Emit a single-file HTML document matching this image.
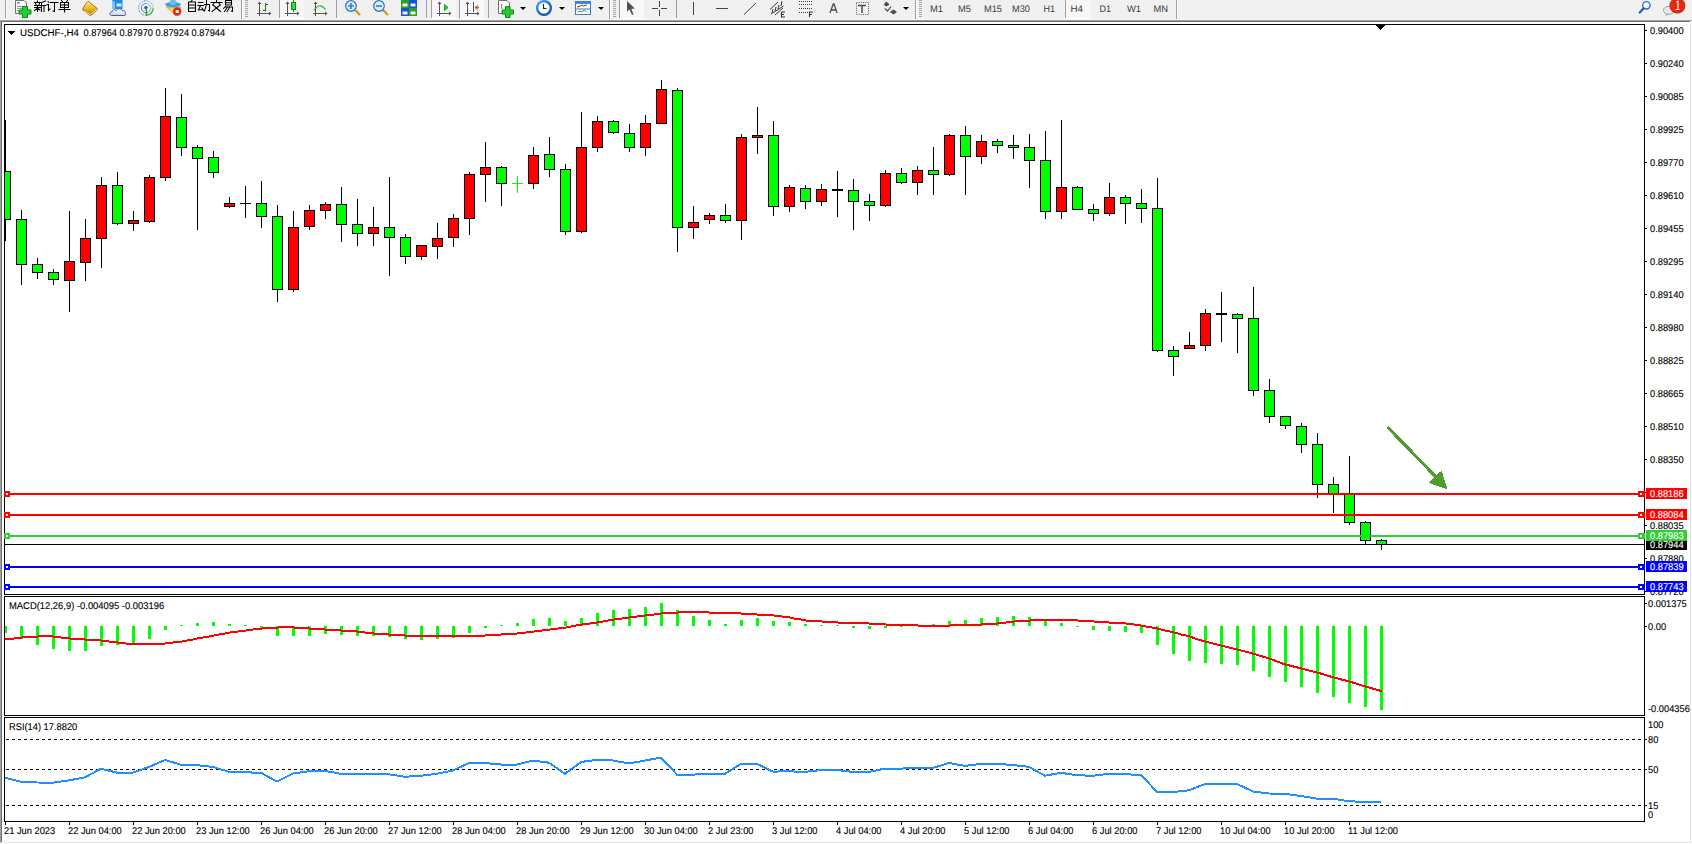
<!DOCTYPE html>
<html><head><meta charset="utf-8"><style>
html,body{margin:0;padding:0;background:#fff;width:1692px;height:844px;overflow:hidden}
svg{display:block}
text{white-space:pre;text-rendering:geometricPrecision}
</style></head><body>
<svg width="1692" height="844" viewBox="0 0 1692 844" shape-rendering="crispEdges" font-family="Liberation Sans">
<rect x="0" y="0" width="1692" height="844" fill="#fff"/>
<rect x="0" y="0" width="1692" height="19" fill="#f0f0f0"/>
<rect x="0" y="19" width="1692" height="1" fill="#f8f8f8"/>
<rect x="0" y="20" width="1692" height="1" fill="#a0a0a0"/>
<rect x="1" y="21" width="1689" height="1" fill="#707070"/>
<rect x="0" y="21" width="1" height="822" fill="#a0a0a0"/>
<rect x="1" y="21" width="1" height="821" fill="#707070"/>
<rect x="1690" y="22" width="1" height="820" fill="#e3e3e3"/>
<rect x="2" y="842" width="1689" height="1" fill="#e3e3e3"/>
<g id="toolbar" shape-rendering="auto">
<!-- separators -->
<g fill="#a0a0a0">
<rect x="5" y="0" width="1" height="18"/>
<rect x="241" y="0" width="1" height="19"/>
<rect x="279" y="0" width="1" height="18"/>
<rect x="336" y="0" width="1" height="18"/>
<rect x="426" y="0" width="1" height="18"/>
<rect x="431" y="0" width="1" height="18"/>
<rect x="459" y="0" width="1" height="18"/>
<rect x="488" y="0" width="1" height="18"/>
<rect x="609" y="0" width="1" height="19"/>
<rect x="619" y="0" width="1" height="18"/>
<rect x="676" y="0" width="1" height="18"/>
<rect x="915" y="0" width="1" height="19"/>
<rect x="1065" y="0" width="1" height="18"/>
<rect x="1176" y="0" width="1" height="19"/>
</g>
<g fill="#fafafa">
<rect x="6" y="0" width="1" height="18"/><rect x="242" y="0" width="1" height="19"/><rect x="610" y="0" width="1" height="19"/><rect x="916" y="0" width="1" height="19"/><rect x="1177" y="0" width="1" height="19"/>
</g>
<!-- pressed button backgrounds -->
<g fill="#f7f7f7">
<rect x="280" y="0" width="24" height="18"/>
<rect x="432" y="0" width="24" height="18"/>
<rect x="460" y="0" width="24" height="18"/>
<rect x="620" y="0" width="24" height="18"/>
<rect x="1066" y="0" width="24" height="18"/>
</g>
<g fill="#ffffff">
<rect x="280" y="18" width="25" height="1"/><rect x="432" y="18" width="25" height="1"/><rect x="460" y="18" width="25" height="1"/><rect x="620" y="18" width="25" height="1"/><rect x="1066" y="18" width="25" height="1"/>
</g>
<!-- grips -->
<g fill="#a8a8a8">
<rect x="245" y="0" width="3" height="1"/><rect x="245" y="2" width="3" height="1"/><rect x="245" y="4" width="3" height="1"/><rect x="245" y="6" width="3" height="1"/><rect x="245" y="8" width="3" height="1"/><rect x="245" y="10" width="3" height="1"/><rect x="245" y="12" width="3" height="1"/><rect x="245" y="14" width="3" height="1"/><rect x="245" y="16" width="3" height="1"/>
<rect x="613" y="0" width="3" height="1"/><rect x="613" y="2" width="3" height="1"/><rect x="613" y="4" width="3" height="1"/><rect x="613" y="6" width="3" height="1"/><rect x="613" y="8" width="3" height="1"/><rect x="613" y="10" width="3" height="1"/><rect x="613" y="12" width="3" height="1"/><rect x="613" y="14" width="3" height="1"/><rect x="613" y="16" width="3" height="1"/>
<rect x="919" y="0" width="3" height="1"/><rect x="919" y="2" width="3" height="1"/><rect x="919" y="4" width="3" height="1"/><rect x="919" y="6" width="3" height="1"/><rect x="919" y="8" width="3" height="1"/><rect x="919" y="10" width="3" height="1"/><rect x="919" y="12" width="3" height="1"/><rect x="919" y="14" width="3" height="1"/><rect x="919" y="16" width="3" height="1"/>
</g>

<!-- new order icon -->
<path d="M15.5,0.5 H24 L26.5,3 V13.5 H15.5 Z" fill="#fff" stroke="#707070" stroke-width="1"/>
<rect x="17" y="2" width="3" height="1.5" fill="#888"/>
<rect x="17" y="6" width="7" height="1" fill="#999"/><rect x="17" y="8" width="5" height="1" fill="#999"/><rect x="17" y="10" width="4" height="1" fill="#999"/>
<path d="M22.5,6.5 H27.5 V10 H31 V14 H27.5 V17.5 H22.5 V14 H19 V10 H22.5 Z" fill="#1fd02f" stroke="#0a8a14" stroke-width="1"/>
<!-- 新订单 -->
<g fill="none" stroke="#000" stroke-width="1.05" stroke-linecap="square">
<path d="M37.5,1 V2 M34.5,2.5 H40.5 M35.5,3.5 L36,4.5 M39.5,3.5 L39,4.5 M34.5,5.5 H40.5 M37.5,5.5 V11.5 M34.5,7.5 H40.5 M37.5,8 L34.5,10.5 M37.5,8 L40,10"/>
<path d="M45.5,1 L41.5,2.5 V11.5 M41.5,5.5 H46 M44,5.5 V11.5"/>
<path d="M48,1.5 L49,2.5 M47,4.5 H48.5 V10.5 L50,9"/>
<path d="M50.5,2.5 H58 M54.5,2.5 V11.5 L53,11"/>
<path d="M61.5,0.5 L62.5,1.5 M67.5,0.5 L66.5,1.5 M60.5,2.5 H68.5 V7.5 H60.5 Z M60.5,5 H68.5 M64.5,2.5 V12 M59,9.5 H70"/>
</g>
<!-- book -->
<defs>
<linearGradient id="gbook" x1="0" y1="0" x2="0" y2="1"><stop offset="0" stop-color="#fff08a"/><stop offset="0.5" stop-color="#e8b820"/><stop offset="1" stop-color="#b07818"/></linearGradient>
<linearGradient id="gcloud" x1="0" y1="0" x2="0" y2="1"><stop offset="0" stop-color="#ffffff"/><stop offset="1" stop-color="#c8d0e0"/></linearGradient>
<radialGradient id="gclock" cx="0.4" cy="0.35" r="0.7"><stop offset="0" stop-color="#9ad0ff"/><stop offset="0.6" stop-color="#1a78d8"/><stop offset="1" stop-color="#0a4aa0"/></radialGradient>
</defs>
<path d="M82.5,9.8 C83.5,7 85.5,3.5 88.2,1.2 L97.6,8.8 C95.5,11.5 93,14 90.3,15.6 Z" fill="url(#gbook)" stroke="#a8701a" stroke-width="1" stroke-linejoin="round"/>
<path d="M84,11 L90.2,14.6 L96.5,9.5" fill="none" stroke="#f8e0a0" stroke-width="0.9"/>
<!-- server cloud -->
<path d="M112,0 H122.5 V9 H112 Z" fill="#1a8ae8"/>
<path d="M112,0 L115,2 V9 H112 Z" fill="#7cc4ff"/>
<rect x="116.5" y="3.5" width="5" height="3" fill="#d8ecff"/>
<path d="M111.5,15.5 C109.2,15.5 109.2,12.2 111.8,12 C112,10 114.6,9 116.2,10.4 C117.3,8.4 121.2,8.2 122.2,10.6 C124.6,10.2 126.2,12.2 125.2,13.6 C126.4,14.6 125.6,15.5 124.2,15.5 Z" fill="url(#gcloud)" stroke="#4a5c90" stroke-width="1"/>
<!-- radio signal -->
<g fill="none">
<path d="M146,0.7 A7.3,7.3 0 1 0 146,15.3" stroke="#7898dc" stroke-width="1" stroke-dasharray="2,0.7"/>
<path d="M146,3.4 A4.6,4.6 0 1 0 146,12.6" stroke="#5a84d4" stroke-width="1"/>
<path d="M146,0.7 A7.3,7.3 0 0 1 153.3,8" stroke="#a8c8d8" stroke-width="1"/>
<path d="M146,3.4 A4.6,4.6 0 0 1 150.6,8" stroke="#98c0c8" stroke-width="1"/>
<path d="M153.3,8 A7.3,7.3 0 0 1 146.5,15.3" stroke="#50a850" stroke-width="1.3"/>
<path d="M150.6,8 A4.6,4.6 0 0 1 146.5,12.6" stroke="#70b870" stroke-width="1"/>
</g>
<circle cx="146" cy="7.6" r="1.7" fill="#2050c0"/>
<path d="M146.4,8 V15.8" fill="none" stroke="#18a018" stroke-width="1.3"/>
<!-- expert hat -->
<path d="M166.5,7 L175.5,15.5 L180.8,7 Z" fill="#f5d848" stroke="#c8a020" stroke-width="0.8"/>
<ellipse cx="173" cy="4.6" rx="7.8" ry="2.6" fill="#3a9ee0"/>
<ellipse cx="173" cy="2.6" rx="3.6" ry="2.8" fill="#68bcf0"/>
<circle cx="177.2" cy="11.5" r="4.2" fill="#e02010"/>
<rect x="175.7" y="10" width="3" height="3" fill="#fff"/>
<!-- 自动交易 -->
<g fill="none" stroke="#000" stroke-width="1.05" stroke-linecap="square">
<path d="M192,0.5 L191,1.5 M188.5,2 H195.5 V11.5 H188.5 Z M188.5,5 H195.5 M188.5,8 H195.5"/>
<path d="M198.5,2.5 H203 M198,5.5 H203.5 M200.5,5.5 L198.5,10 L203,9.5 M202,8 L203.5,10.5 M206.5,0.5 V4.5 L204.5,11 M204.5,4.5 H209.5 V11 L208.5,10.5"/>
<path d="M216.5,0.5 V1.5 M211,2.5 H222 M214,3.5 L212.5,5 M219,3.5 L220.5,5 M213.5,5.5 L220.5,11.5 M219.5,5.5 L212,11.5"/>
<path d="M225.5,0.5 H231.5 V5 H225.5 Z M225.5,2.75 H231.5 M225.5,6.5 L223.5,8.5 M225,7 H232.5 V11.5 L231.5,11 M227.5,7 L224.5,11.5 M230,7 L227,11.5"/>
</g>

<!-- chart type icons -->
<g fill="#555" stroke="none">
<!-- bar -->
<rect x="259" y="3" width="1" height="13"/><rect x="257" y="13" width="13" height="1"/>
<path d="M259.5,1.5 L257.5,4 H261.5 Z M271.5,13.5 L269,11.5 V15.5 Z"/>
<rect x="287" y="3" width="1" height="13"/><rect x="285" y="13" width="13" height="1"/>
<path d="M287.5,1.5 L285.5,4 H289.5 Z M299.5,13.5 L297,11.5 V15.5 Z"/>
<rect x="315" y="3" width="1" height="13"/><rect x="313" y="13" width="13" height="1"/>
<path d="M315.5,1.5 L313.5,4 H317.5 Z M327.5,13.5 L325,11.5 V15.5 Z"/>
<rect x="439" y="3" width="1" height="13"/><rect x="437" y="13" width="13" height="1"/>
<path d="M439.5,1.5 L437.5,4 H441.5 Z M451.5,13.5 L449,11.5 V15.5 Z"/>
<rect x="467" y="3" width="1" height="13"/><rect x="465" y="13" width="13" height="1"/>
<path d="M467.5,1.5 L465.5,4 H469.5 Z M479.5,13.5 L477,11.5 V15.5 Z"/>
</g>
<path d="M265.5,3 V11.5 M263,10.5 H265.5 M265.5,4.5 H268" fill="none" stroke="#0a8a14" stroke-width="1.1"/>
<rect x="293" y="0" width="1" height="12" fill="#0a8a14"/>
<rect x="291.5" y="2.5" width="4" height="7" fill="#30e040" stroke="#0a8a14" stroke-width="1"/>
<path d="M314,10.5 Q319.5,1.5 325.5,9.5" fill="none" stroke="#30a030" stroke-width="1.1"/>
<path d="M444.5,4.5 V10.5 L448,7.5 Z" fill="#30d040" stroke="#10a020" stroke-width="1"/>
<rect x="473" y="2" width="1" height="10" fill="#1060a0"/>
<path d="M474.5,7.5 L477.5,5 V6.8 H479 V8.2 H477.5 V10 Z" fill="#e05010"/>

<!-- zoom in / out -->
<g>
<path d="M355,10 L360,15" stroke="#c8a018" stroke-width="2.4"/>
<circle cx="351" cy="6" r="5.3" fill="#d8ecfa" stroke="#2a70c8" stroke-width="1.2"/>
<path d="M348,6 H354 M351,3 V9" stroke="#3a80a8" stroke-width="1.6"/>
<path d="M383,10 L388,15" stroke="#c8a018" stroke-width="2.4"/>
<circle cx="379" cy="6" r="5.3" fill="#d8ecfa" stroke="#2a70c8" stroke-width="1.2"/>
<path d="M376,6 H382" stroke="#3a80a8" stroke-width="1.6"/>
</g>
<!-- tile -->
<rect x="401" y="0" width="8" height="8" fill="#2aa020"/><rect x="409" y="0" width="8" height="8" fill="#1a50d8"/>
<rect x="401" y="8" width="8" height="8" fill="#1a50d8"/><rect x="409" y="8" width="8" height="8" fill="#2aa020"/>
<g fill="#e8f4e8"><rect x="402.5" y="3.5" width="5" height="3"/><rect x="410.5" y="3.5" width="5" height="3"/><rect x="402.5" y="11.5" width="5" height="3"/><rect x="410.5" y="11.5" width="5" height="3"/></g>

<!-- indicators -->
<path d="M498.5,0.5 H507 L509.5,3 V13.5 H498.5 Z" fill="#fff" stroke="#707070" stroke-width="1"/>
<path d="M502,4 Q501,6 502,9" fill="none" stroke="#604020" stroke-width="0.8"/>
<path d="M505.5,6.5 H510 V10 H513.5 V14 H510 V17.5 H505.5 V14 H502 V10 H505.5 Z" fill="#1fd02f" stroke="#0a8a14" stroke-width="1"/>
<path d="M520,7 H526 L523,10 Z" fill="#000"/>
<!-- clock -->
<circle cx="544" cy="8" r="8" fill="url(#gclock)"/><circle cx="544" cy="8" r="5.6" fill="#fbfdff"/>
<path d="M543.5,4 V8.5 H546.5" fill="none" stroke="#222" stroke-width="1.1"/>
<path d="M559,7 H565 L562,10 Z" fill="#000"/>
<!-- templates -->
<rect x="575.5" y="1.5" width="15" height="13" fill="#fff" stroke="#3a78c8" stroke-width="1"/>
<rect x="576" y="2" width="14" height="2" fill="#4a88d8"/>
<rect x="576" y="8.5" width="14" height="1" fill="#3a78c8"/>
<path d="M577,7 L579,6.5 L580.5,6 L582,5 L583.5,6 L585,5.5 L587,5" fill="none" stroke="#a02010" stroke-width="1"/>
<path d="M578,12 L580,11 L581.5,12 L583,11 L584.5,10 L586.5,12" fill="none" stroke="#20a020" stroke-width="1"/>
<path d="M598,7 H604 L601,10 Z" fill="#000"/>

<!-- cursor -->
<path d="M627,1 L627,11.5 L629.5,9.5 L632,15 L633.5,14.3 L631.3,9 L634.8,8.6 Z" fill="#505050"/>
<!-- crosshair -->
<g fill="#454545">
<rect x="652" y="8" width="6" height="1"/><rect x="661" y="8" width="6" height="1"/>
<rect x="659" y="1" width="1" height="6"/><rect x="659" y="10" width="1" height="6"/>
</g>
<!-- drawing tools -->
<rect x="693" y="2" width="1" height="13" fill="#454545"/>
<rect x="716" y="8" width="12" height="1" fill="#454545"/>
<path d="M744,14.5 L756,3" stroke="#454545" stroke-width="1"/>
<g stroke="#383838" stroke-width="1" fill="none">
<path d="M770,9.5 L778,2 M771,14 L783.5,6 M775,15 L783,8"/>
<path d="M773,9 L772,13 M776,7 L775,11 M779,5 L778,9 M782,1 L781,6"/>
</g>
<path d="M781.5,12 V17 H785 M781.5,14.5 H784 M781.5,12 H785" fill="none" stroke="#333" stroke-width="1.1"/>
<g fill="#454545">
<path d="M799,1.5 H813 M799,4.5 H813 M799,8.5 H813 M799,12.5 H809" stroke="#404040" stroke-width="1" stroke-dasharray="1,1" fill="none" shape-rendering="crispEdges"/>
</g>
<path d="M809.5,17 V12 H813 M809.5,14.5 H812" fill="none" stroke="#333" stroke-width="1.1"/>
<path d="M830,13 L833.2,4 H834 L837,13 M831.3,10 H835.8" fill="none" stroke="#4a4a4a" stroke-width="1.3"/>
<rect x="856.5" y="2.5" width="12" height="12" fill="none" stroke="#555" stroke-width="1" stroke-dasharray="1,1.2"/>
<path d="M858,5.5 H866 M862,5.5 V13" fill="none" stroke="#4a4a4a" stroke-width="1.5"/>
<path d="M886.5,1.5 L889.5,4.5 L886.5,6.5 L883.5,4.5 Z M893.5,9.5 L897,12 L893.5,14.5 L890,12 Z" fill="#4a4a4a"/>
<path d="M885,8.5 L887.5,11 L891,6.5" fill="none" stroke="#4a4a4a" stroke-width="1.2"/>
<path d="M903,7 H909 L906,10 Z" fill="#000"/>

<!-- timeframes -->
<g font-family="Liberation Sans" font-size="9.5" fill="#3a3a3a">
<text x="930" y="12" textLength="13" lengthAdjust="spacingAndGlyphs">M1</text>
<text x="958" y="12" textLength="13" lengthAdjust="spacingAndGlyphs">M5</text>
<text x="984" y="12" textLength="18" lengthAdjust="spacingAndGlyphs">M15</text>
<text x="1012" y="12" textLength="18" lengthAdjust="spacingAndGlyphs">M30</text>
<text x="1043.5" y="12" textLength="11.5" lengthAdjust="spacingAndGlyphs">H1</text>
<text x="1070.5" y="12" textLength="12.5" lengthAdjust="spacingAndGlyphs">H4</text>
<text x="1099.5" y="12" textLength="11.5" lengthAdjust="spacingAndGlyphs">D1</text>
<text x="1127" y="12" textLength="14" lengthAdjust="spacingAndGlyphs">W1</text>
<text x="1153.5" y="12" textLength="14.5" lengthAdjust="spacingAndGlyphs">MN</text>
</g>

<!-- search + chat -->
<circle cx="1646.4" cy="5.3" r="3.7" fill="#fff" stroke="#2a68d0" stroke-width="1.3"/>
<path d="M1643.6,8.3 L1639.8,12.5" stroke="#2058c8" stroke-width="2.2" stroke-linecap="round"/>
<ellipse cx="1669" cy="10.3" rx="5.6" ry="4" fill="#e8e8ee" stroke="#a0a0a0" stroke-width="1"/>
<path d="M1666,13.5 L1665.5,16.5 L1669,14" fill="#b0b0b0"/>
<circle cx="1677.4" cy="5.7" r="8" fill="#e02a14"/>
<path d="M1676.5,2 L1678,1.2 V9.5 M1675.5,9.5 H1679.5" fill="none" stroke="#fff" stroke-width="1.1"/>
</g>

<clipPath id="cm"><rect x="5" y="25" width="1639" height="569"/></clipPath>
<clipPath id="cmacd"><rect x="5" y="597" width="1639" height="118"/></clipPath>
<clipPath id="crsi"><rect x="5" y="718" width="1639" height="103"/></clipPath>
<g clip-path="url(#cm)">
<rect x="5" y="120" width="1" height="121" fill="#000"/>
<rect x="0" y="171" width="11" height="49" fill="#000"/>
<rect x="1" y="172" width="9" height="47" fill="#00ff00"/>
<rect x="21" y="210" width="1" height="75" fill="#000"/>
<rect x="16" y="219" width="11" height="46" fill="#000"/>
<rect x="17" y="220" width="9" height="44" fill="#00ff00"/>
<rect x="37" y="258" width="1" height="21" fill="#000"/>
<rect x="32" y="264" width="11" height="9" fill="#000"/>
<rect x="33" y="265" width="9" height="7" fill="#00ff00"/>
<rect x="53" y="269" width="1" height="16" fill="#000"/>
<rect x="48" y="272" width="11" height="8" fill="#000"/>
<rect x="49" y="273" width="9" height="6" fill="#00ff00"/>
<rect x="69" y="211" width="1" height="101" fill="#000"/>
<rect x="64" y="261" width="11" height="20" fill="#000"/>
<rect x="65" y="262" width="9" height="18" fill="#ff0000"/>
<rect x="85" y="219" width="1" height="62" fill="#000"/>
<rect x="80" y="238" width="11" height="25" fill="#000"/>
<rect x="81" y="239" width="9" height="23" fill="#ff0000"/>
<rect x="101" y="177" width="1" height="91" fill="#000"/>
<rect x="96" y="185" width="11" height="54" fill="#000"/>
<rect x="97" y="186" width="9" height="52" fill="#ff0000"/>
<rect x="117" y="172" width="1" height="53" fill="#000"/>
<rect x="112" y="185" width="11" height="39" fill="#000"/>
<rect x="113" y="186" width="9" height="37" fill="#00ff00"/>
<rect x="133" y="211" width="1" height="20" fill="#000"/>
<rect x="128" y="220" width="11" height="4" fill="#000"/>
<rect x="129" y="221" width="9" height="2" fill="#ff0000"/>
<rect x="149" y="175" width="1" height="48" fill="#000"/>
<rect x="144" y="177" width="11" height="45" fill="#000"/>
<rect x="145" y="178" width="9" height="43" fill="#ff0000"/>
<rect x="165" y="88" width="1" height="93" fill="#000"/>
<rect x="160" y="116" width="11" height="62" fill="#000"/>
<rect x="161" y="117" width="9" height="60" fill="#ff0000"/>
<rect x="181" y="94" width="1" height="62" fill="#000"/>
<rect x="176" y="117" width="11" height="31" fill="#000"/>
<rect x="177" y="118" width="9" height="29" fill="#00ff00"/>
<rect x="197" y="145" width="1" height="85" fill="#000"/>
<rect x="192" y="147" width="11" height="12" fill="#000"/>
<rect x="193" y="148" width="9" height="10" fill="#00ff00"/>
<rect x="213" y="151" width="1" height="27" fill="#000"/>
<rect x="208" y="157" width="11" height="16" fill="#000"/>
<rect x="209" y="158" width="9" height="14" fill="#00ff00"/>
<rect x="229" y="197" width="1" height="11" fill="#000"/>
<rect x="224" y="203" width="11" height="4" fill="#000"/>
<rect x="225" y="204" width="9" height="2" fill="#ff0000"/>
<rect x="245" y="186" width="1" height="32" fill="#000"/>
<rect x="240" y="203" width="11" height="1" fill="#000"/>
<rect x="261" y="181" width="1" height="47" fill="#000"/>
<rect x="256" y="203" width="11" height="14" fill="#000"/>
<rect x="257" y="204" width="9" height="12" fill="#00ff00"/>
<rect x="277" y="205" width="1" height="97" fill="#000"/>
<rect x="272" y="216" width="11" height="74" fill="#000"/>
<rect x="273" y="217" width="9" height="72" fill="#00ff00"/>
<rect x="293" y="211" width="1" height="81" fill="#000"/>
<rect x="288" y="227" width="11" height="63" fill="#000"/>
<rect x="289" y="228" width="9" height="61" fill="#ff0000"/>
<rect x="309" y="205" width="1" height="25" fill="#000"/>
<rect x="304" y="210" width="11" height="17" fill="#000"/>
<rect x="305" y="211" width="9" height="15" fill="#ff0000"/>
<rect x="325" y="202" width="1" height="17" fill="#000"/>
<rect x="320" y="204" width="11" height="7" fill="#000"/>
<rect x="321" y="205" width="9" height="5" fill="#ff0000"/>
<rect x="341" y="187" width="1" height="55" fill="#000"/>
<rect x="336" y="204" width="11" height="21" fill="#000"/>
<rect x="337" y="205" width="9" height="19" fill="#00ff00"/>
<rect x="357" y="199" width="1" height="47" fill="#000"/>
<rect x="352" y="224" width="11" height="10" fill="#000"/>
<rect x="353" y="225" width="9" height="8" fill="#00ff00"/>
<rect x="373" y="207" width="1" height="39" fill="#000"/>
<rect x="368" y="227" width="11" height="7" fill="#000"/>
<rect x="369" y="228" width="9" height="5" fill="#ff0000"/>
<rect x="389" y="177" width="1" height="99" fill="#000"/>
<rect x="384" y="227" width="11" height="11" fill="#000"/>
<rect x="385" y="228" width="9" height="9" fill="#00ff00"/>
<rect x="405" y="234" width="1" height="30" fill="#000"/>
<rect x="400" y="237" width="11" height="20" fill="#000"/>
<rect x="401" y="238" width="9" height="18" fill="#00ff00"/>
<rect x="421" y="245" width="1" height="15" fill="#000"/>
<rect x="416" y="245" width="11" height="12" fill="#000"/>
<rect x="417" y="246" width="9" height="10" fill="#ff0000"/>
<rect x="437" y="223" width="1" height="36" fill="#000"/>
<rect x="432" y="238" width="11" height="9" fill="#000"/>
<rect x="433" y="239" width="9" height="7" fill="#ff0000"/>
<rect x="453" y="214" width="1" height="33" fill="#000"/>
<rect x="448" y="218" width="11" height="20" fill="#000"/>
<rect x="449" y="219" width="9" height="18" fill="#ff0000"/>
<rect x="469" y="172" width="1" height="63" fill="#000"/>
<rect x="464" y="174" width="11" height="45" fill="#000"/>
<rect x="465" y="175" width="9" height="43" fill="#ff0000"/>
<rect x="485" y="142" width="1" height="60" fill="#000"/>
<rect x="480" y="167" width="11" height="8" fill="#000"/>
<rect x="481" y="168" width="9" height="6" fill="#ff0000"/>
<rect x="501" y="166" width="1" height="40" fill="#000"/>
<rect x="496" y="167" width="11" height="17" fill="#000"/>
<rect x="497" y="168" width="9" height="15" fill="#00ff00"/>
<rect x="512" y="183" width="11" height="1" fill="#00ff00"/>
<rect x="517" y="176" width="1" height="17" fill="#00ff00"/>
<rect x="533" y="147" width="1" height="42" fill="#000"/>
<rect x="528" y="155" width="11" height="29" fill="#000"/>
<rect x="529" y="156" width="9" height="27" fill="#ff0000"/>
<rect x="549" y="137" width="1" height="40" fill="#000"/>
<rect x="544" y="154" width="11" height="16" fill="#000"/>
<rect x="545" y="155" width="9" height="14" fill="#00ff00"/>
<rect x="565" y="164" width="1" height="71" fill="#000"/>
<rect x="560" y="169" width="11" height="63" fill="#000"/>
<rect x="561" y="170" width="9" height="61" fill="#00ff00"/>
<rect x="581" y="112" width="1" height="121" fill="#000"/>
<rect x="576" y="147" width="11" height="85" fill="#000"/>
<rect x="577" y="148" width="9" height="83" fill="#ff0000"/>
<rect x="597" y="116" width="1" height="36" fill="#000"/>
<rect x="592" y="121" width="11" height="27" fill="#000"/>
<rect x="593" y="122" width="9" height="25" fill="#ff0000"/>
<rect x="613" y="120" width="1" height="14" fill="#000"/>
<rect x="608" y="121" width="11" height="12" fill="#000"/>
<rect x="609" y="122" width="9" height="10" fill="#00ff00"/>
<rect x="629" y="124" width="1" height="28" fill="#000"/>
<rect x="624" y="133" width="11" height="15" fill="#000"/>
<rect x="625" y="134" width="9" height="13" fill="#00ff00"/>
<rect x="645" y="115" width="1" height="41" fill="#000"/>
<rect x="640" y="123" width="11" height="25" fill="#000"/>
<rect x="641" y="124" width="9" height="23" fill="#ff0000"/>
<rect x="661" y="80" width="1" height="44" fill="#000"/>
<rect x="656" y="89" width="11" height="35" fill="#000"/>
<rect x="657" y="90" width="9" height="33" fill="#ff0000"/>
<rect x="677" y="88" width="1" height="164" fill="#000"/>
<rect x="672" y="90" width="11" height="138" fill="#000"/>
<rect x="673" y="91" width="9" height="136" fill="#00ff00"/>
<rect x="693" y="206" width="1" height="33" fill="#000"/>
<rect x="688" y="222" width="11" height="6" fill="#000"/>
<rect x="689" y="223" width="9" height="4" fill="#ff0000"/>
<rect x="709" y="213" width="1" height="11" fill="#000"/>
<rect x="704" y="215" width="11" height="5" fill="#000"/>
<rect x="705" y="216" width="9" height="3" fill="#ff0000"/>
<rect x="725" y="204" width="1" height="19" fill="#000"/>
<rect x="720" y="215" width="11" height="6" fill="#000"/>
<rect x="721" y="216" width="9" height="4" fill="#00ff00"/>
<rect x="741" y="134" width="1" height="106" fill="#000"/>
<rect x="736" y="137" width="11" height="84" fill="#000"/>
<rect x="737" y="138" width="9" height="82" fill="#ff0000"/>
<rect x="757" y="107" width="1" height="47" fill="#000"/>
<rect x="752" y="135" width="11" height="3" fill="#000"/>
<rect x="753" y="136" width="9" height="1" fill="#ff0000"/>
<rect x="773" y="121" width="1" height="95" fill="#000"/>
<rect x="768" y="135" width="11" height="72" fill="#000"/>
<rect x="769" y="136" width="9" height="70" fill="#00ff00"/>
<rect x="789" y="185" width="1" height="27" fill="#000"/>
<rect x="784" y="187" width="11" height="20" fill="#000"/>
<rect x="785" y="188" width="9" height="18" fill="#ff0000"/>
<rect x="805" y="185" width="1" height="24" fill="#000"/>
<rect x="800" y="188" width="11" height="14" fill="#000"/>
<rect x="801" y="189" width="9" height="12" fill="#00ff00"/>
<rect x="821" y="184" width="1" height="22" fill="#000"/>
<rect x="816" y="189" width="11" height="13" fill="#000"/>
<rect x="817" y="190" width="9" height="11" fill="#ff0000"/>
<rect x="837" y="171" width="1" height="46" fill="#000"/>
<rect x="832" y="189" width="11" height="2" fill="#000"/>
<rect x="853" y="179" width="1" height="51" fill="#000"/>
<rect x="848" y="190" width="11" height="12" fill="#000"/>
<rect x="849" y="191" width="9" height="10" fill="#00ff00"/>
<rect x="869" y="194" width="1" height="27" fill="#000"/>
<rect x="864" y="201" width="11" height="5" fill="#000"/>
<rect x="865" y="202" width="9" height="3" fill="#00ff00"/>
<rect x="885" y="170" width="1" height="37" fill="#000"/>
<rect x="880" y="173" width="11" height="33" fill="#000"/>
<rect x="881" y="174" width="9" height="31" fill="#ff0000"/>
<rect x="901" y="168" width="1" height="16" fill="#000"/>
<rect x="896" y="173" width="11" height="10" fill="#000"/>
<rect x="897" y="174" width="9" height="8" fill="#00ff00"/>
<rect x="917" y="166" width="1" height="29" fill="#000"/>
<rect x="912" y="170" width="11" height="13" fill="#000"/>
<rect x="913" y="171" width="9" height="11" fill="#ff0000"/>
<rect x="933" y="147" width="1" height="48" fill="#000"/>
<rect x="928" y="170" width="11" height="5" fill="#000"/>
<rect x="929" y="171" width="9" height="3" fill="#00ff00"/>
<rect x="949" y="134" width="1" height="42" fill="#000"/>
<rect x="944" y="135" width="11" height="40" fill="#000"/>
<rect x="945" y="136" width="9" height="38" fill="#ff0000"/>
<rect x="965" y="126" width="1" height="69" fill="#000"/>
<rect x="960" y="135" width="11" height="22" fill="#000"/>
<rect x="961" y="136" width="9" height="20" fill="#00ff00"/>
<rect x="981" y="135" width="1" height="29" fill="#000"/>
<rect x="976" y="141" width="11" height="16" fill="#000"/>
<rect x="977" y="142" width="9" height="14" fill="#ff0000"/>
<rect x="997" y="139" width="1" height="14" fill="#000"/>
<rect x="992" y="141" width="11" height="5" fill="#000"/>
<rect x="993" y="142" width="9" height="3" fill="#00ff00"/>
<rect x="1013" y="135" width="1" height="24" fill="#000"/>
<rect x="1008" y="145" width="11" height="3" fill="#000"/>
<rect x="1009" y="146" width="9" height="1" fill="#00ff00"/>
<rect x="1029" y="134" width="1" height="54" fill="#000"/>
<rect x="1024" y="147" width="11" height="14" fill="#000"/>
<rect x="1025" y="148" width="9" height="12" fill="#00ff00"/>
<rect x="1045" y="131" width="1" height="88" fill="#000"/>
<rect x="1040" y="160" width="11" height="52" fill="#000"/>
<rect x="1041" y="161" width="9" height="50" fill="#00ff00"/>
<rect x="1061" y="120" width="1" height="99" fill="#000"/>
<rect x="1056" y="187" width="11" height="25" fill="#000"/>
<rect x="1057" y="188" width="9" height="23" fill="#ff0000"/>
<rect x="1077" y="186" width="1" height="24" fill="#000"/>
<rect x="1072" y="187" width="11" height="23" fill="#000"/>
<rect x="1073" y="188" width="9" height="21" fill="#00ff00"/>
<rect x="1093" y="204" width="1" height="17" fill="#000"/>
<rect x="1088" y="209" width="11" height="5" fill="#000"/>
<rect x="1089" y="210" width="9" height="3" fill="#00ff00"/>
<rect x="1109" y="183" width="1" height="33" fill="#000"/>
<rect x="1104" y="197" width="11" height="17" fill="#000"/>
<rect x="1105" y="198" width="9" height="15" fill="#ff0000"/>
<rect x="1125" y="195" width="1" height="29" fill="#000"/>
<rect x="1120" y="197" width="11" height="7" fill="#000"/>
<rect x="1121" y="198" width="9" height="5" fill="#00ff00"/>
<rect x="1141" y="189" width="1" height="34" fill="#000"/>
<rect x="1136" y="203" width="11" height="6" fill="#000"/>
<rect x="1137" y="204" width="9" height="4" fill="#00ff00"/>
<rect x="1157" y="178" width="1" height="174" fill="#000"/>
<rect x="1152" y="208" width="11" height="143" fill="#000"/>
<rect x="1153" y="209" width="9" height="141" fill="#00ff00"/>
<rect x="1173" y="346" width="1" height="30" fill="#000"/>
<rect x="1168" y="350" width="11" height="7" fill="#000"/>
<rect x="1169" y="351" width="9" height="5" fill="#00ff00"/>
<rect x="1189" y="332" width="1" height="17" fill="#000"/>
<rect x="1184" y="345" width="11" height="4" fill="#000"/>
<rect x="1185" y="346" width="9" height="2" fill="#ff0000"/>
<rect x="1205" y="309" width="1" height="42" fill="#000"/>
<rect x="1200" y="313" width="11" height="33" fill="#000"/>
<rect x="1201" y="314" width="9" height="31" fill="#ff0000"/>
<rect x="1221" y="292" width="1" height="50" fill="#000"/>
<rect x="1216" y="313" width="11" height="2" fill="#000"/>
<rect x="1237" y="313" width="1" height="40" fill="#000"/>
<rect x="1232" y="314" width="11" height="5" fill="#000"/>
<rect x="1233" y="315" width="9" height="3" fill="#00ff00"/>
<rect x="1253" y="287" width="1" height="109" fill="#000"/>
<rect x="1248" y="318" width="11" height="73" fill="#000"/>
<rect x="1249" y="319" width="9" height="71" fill="#00ff00"/>
<rect x="1269" y="379" width="1" height="44" fill="#000"/>
<rect x="1264" y="390" width="11" height="27" fill="#000"/>
<rect x="1265" y="391" width="9" height="25" fill="#00ff00"/>
<rect x="1285" y="416" width="1" height="13" fill="#000"/>
<rect x="1280" y="416" width="11" height="10" fill="#000"/>
<rect x="1281" y="417" width="9" height="8" fill="#00ff00"/>
<rect x="1301" y="423" width="1" height="30" fill="#000"/>
<rect x="1296" y="426" width="11" height="19" fill="#000"/>
<rect x="1297" y="427" width="9" height="17" fill="#00ff00"/>
<rect x="1317" y="433" width="1" height="65" fill="#000"/>
<rect x="1312" y="444" width="11" height="41" fill="#000"/>
<rect x="1313" y="445" width="9" height="39" fill="#00ff00"/>
<rect x="1333" y="477" width="1" height="36" fill="#000"/>
<rect x="1328" y="484" width="11" height="10" fill="#000"/>
<rect x="1329" y="485" width="9" height="8" fill="#00ff00"/>
<rect x="1349" y="456" width="1" height="69" fill="#000"/>
<rect x="1344" y="494" width="11" height="29" fill="#000"/>
<rect x="1345" y="495" width="9" height="27" fill="#00ff00"/>
<rect x="1365" y="521" width="1" height="24" fill="#000"/>
<rect x="1360" y="522" width="11" height="19" fill="#000"/>
<rect x="1361" y="523" width="9" height="17" fill="#00ff00"/>
<rect x="1381" y="539" width="1" height="11" fill="#000"/>
<rect x="1376" y="540" width="11" height="5" fill="#000"/>
<rect x="1377" y="541" width="9" height="3" fill="#00ff00"/>
<rect x="5" y="544" width="1639" height="1" fill="#000"/>
<rect x="5" y="493" width="1639" height="2" fill="#ff0000"/>
<rect x="5" y="514" width="1639" height="2" fill="#ff0000"/>
<rect x="5" y="535" width="1639" height="2" fill="#32cd32"/>
<rect x="5" y="566" width="1639" height="2" fill="#0000ff"/>
<rect x="5" y="586" width="1639" height="2" fill="#0000ff"/>
</g>
<line x1="1387.5" y1="427" x2="1437" y2="478" stroke="#529b32" stroke-width="3.2"/>
<polygon points="1441.6,470.5 1428.5,482.8 1447.5,489.3" fill="#529b32"/>
<g clip-path="url(#cmacd)">
<rect x="4" y="626" width="3" height="7" fill="#00ff00"/>
<rect x="20" y="626" width="3" height="13" fill="#00ff00"/>
<rect x="36" y="626" width="3" height="19" fill="#00ff00"/>
<rect x="52" y="626" width="3" height="23" fill="#00ff00"/>
<rect x="68" y="626" width="3" height="25" fill="#00ff00"/>
<rect x="84" y="626" width="3" height="25" fill="#00ff00"/>
<rect x="100" y="626" width="3" height="20" fill="#00ff00"/>
<rect x="116" y="626" width="3" height="19" fill="#00ff00"/>
<rect x="132" y="626" width="3" height="17" fill="#00ff00"/>
<rect x="148" y="626" width="3" height="13" fill="#00ff00"/>
<rect x="164" y="626" width="3" height="4" fill="#00ff00"/>
<rect x="180" y="625" width="3" height="1" fill="#00ff00"/>
<rect x="196" y="623" width="3" height="3" fill="#00ff00"/>
<rect x="212" y="622" width="3" height="4" fill="#00ff00"/>
<rect x="228" y="624" width="3" height="2" fill="#00ff00"/>
<rect x="244" y="625" width="3" height="1" fill="#00ff00"/>
<rect x="260" y="626" width="3" height="2" fill="#00ff00"/>
<rect x="276" y="626" width="3" height="10" fill="#00ff00"/>
<rect x="292" y="626" width="3" height="10" fill="#00ff00"/>
<rect x="308" y="626" width="3" height="10" fill="#00ff00"/>
<rect x="324" y="626" width="3" height="8" fill="#00ff00"/>
<rect x="340" y="626" width="3" height="9" fill="#00ff00"/>
<rect x="356" y="626" width="3" height="10" fill="#00ff00"/>
<rect x="372" y="626" width="3" height="10" fill="#00ff00"/>
<rect x="388" y="626" width="3" height="11" fill="#00ff00"/>
<rect x="404" y="626" width="3" height="13" fill="#00ff00"/>
<rect x="420" y="626" width="3" height="14" fill="#00ff00"/>
<rect x="436" y="626" width="3" height="13" fill="#00ff00"/>
<rect x="452" y="626" width="3" height="12" fill="#00ff00"/>
<rect x="468" y="626" width="3" height="7" fill="#00ff00"/>
<rect x="484" y="626" width="3" height="2" fill="#00ff00"/>
<rect x="500" y="625" width="3" height="1" fill="#00ff00"/>
<rect x="516" y="623" width="3" height="3" fill="#00ff00"/>
<rect x="532" y="619" width="3" height="7" fill="#00ff00"/>
<rect x="548" y="618" width="3" height="8" fill="#00ff00"/>
<rect x="564" y="621" width="3" height="5" fill="#00ff00"/>
<rect x="580" y="618" width="3" height="8" fill="#00ff00"/>
<rect x="596" y="613" width="3" height="13" fill="#00ff00"/>
<rect x="612" y="610" width="3" height="16" fill="#00ff00"/>
<rect x="628" y="609" width="3" height="17" fill="#00ff00"/>
<rect x="644" y="607" width="3" height="19" fill="#00ff00"/>
<rect x="660" y="603" width="3" height="23" fill="#00ff00"/>
<rect x="676" y="610" width="3" height="16" fill="#00ff00"/>
<rect x="692" y="616" width="3" height="10" fill="#00ff00"/>
<rect x="708" y="620" width="3" height="6" fill="#00ff00"/>
<rect x="724" y="624" width="3" height="2" fill="#00ff00"/>
<rect x="740" y="620" width="3" height="6" fill="#00ff00"/>
<rect x="756" y="618" width="3" height="8" fill="#00ff00"/>
<rect x="772" y="621" width="3" height="5" fill="#00ff00"/>
<rect x="788" y="622" width="3" height="4" fill="#00ff00"/>
<rect x="804" y="624" width="3" height="2" fill="#00ff00"/>
<rect x="820" y="625" width="3" height="1" fill="#00ff00"/>
<rect x="836" y="625" width="3" height="1" fill="#00ff00"/>
<rect x="852" y="626" width="3" height="2" fill="#00ff00"/>
<rect x="868" y="626" width="3" height="3" fill="#00ff00"/>
<rect x="884" y="626" width="3" height="2" fill="#00ff00"/>
<rect x="900" y="626" width="3" height="1" fill="#00ff00"/>
<rect x="932" y="624" width="3" height="2" fill="#00ff00"/>
<rect x="948" y="621" width="3" height="5" fill="#00ff00"/>
<rect x="964" y="620" width="3" height="6" fill="#00ff00"/>
<rect x="980" y="618" width="3" height="8" fill="#00ff00"/>
<rect x="996" y="617" width="3" height="9" fill="#00ff00"/>
<rect x="1012" y="616" width="3" height="10" fill="#00ff00"/>
<rect x="1028" y="617" width="3" height="9" fill="#00ff00"/>
<rect x="1044" y="621" width="3" height="5" fill="#00ff00"/>
<rect x="1060" y="623" width="3" height="3" fill="#00ff00"/>
<rect x="1076" y="626" width="3" height="1" fill="#00ff00"/>
<rect x="1092" y="626" width="3" height="4" fill="#00ff00"/>
<rect x="1108" y="626" width="3" height="5" fill="#00ff00"/>
<rect x="1124" y="626" width="3" height="6" fill="#00ff00"/>
<rect x="1140" y="626" width="3" height="7" fill="#00ff00"/>
<rect x="1156" y="626" width="3" height="19" fill="#00ff00"/>
<rect x="1172" y="626" width="3" height="28" fill="#00ff00"/>
<rect x="1188" y="626" width="3" height="35" fill="#00ff00"/>
<rect x="1204" y="626" width="3" height="37" fill="#00ff00"/>
<rect x="1220" y="626" width="3" height="38" fill="#00ff00"/>
<rect x="1236" y="626" width="3" height="39" fill="#00ff00"/>
<rect x="1252" y="626" width="3" height="45" fill="#00ff00"/>
<rect x="1268" y="626" width="3" height="51" fill="#00ff00"/>
<rect x="1284" y="626" width="3" height="56" fill="#00ff00"/>
<rect x="1300" y="626" width="3" height="61" fill="#00ff00"/>
<rect x="1316" y="626" width="3" height="67" fill="#00ff00"/>
<rect x="1332" y="626" width="3" height="71" fill="#00ff00"/>
<rect x="1348" y="626" width="3" height="77" fill="#00ff00"/>
<rect x="1364" y="626" width="3" height="81" fill="#00ff00"/>
<rect x="1380" y="626" width="3" height="84" fill="#00ff00"/>
<rect x="5" y="638" width="9" height="2" fill="#ff0000"/>
<rect x="14" y="637" width="8" height="2" fill="#ff0000"/>
<rect x="22" y="636" width="16" height="2" fill="#ff0000"/>
<rect x="38" y="635" width="15" height="2" fill="#ff0000"/>
<rect x="53" y="636" width="8" height="2" fill="#ff0000"/>
<rect x="61" y="637" width="9" height="2" fill="#ff0000"/>
<rect x="70" y="638" width="15" height="2" fill="#ff0000"/>
<rect x="85" y="639" width="16" height="2" fill="#ff0000"/>
<rect x="101" y="640" width="8" height="2" fill="#ff0000"/>
<rect x="109" y="641" width="9" height="2" fill="#ff0000"/>
<rect x="118" y="642" width="8" height="2" fill="#ff0000"/>
<rect x="126" y="643" width="39" height="2" fill="#ff0000"/>
<rect x="165" y="642" width="8" height="2" fill="#ff0000"/>
<rect x="173" y="641" width="9" height="2" fill="#ff0000"/>
<rect x="182" y="640" width="5" height="2" fill="#ff0000"/>
<rect x="187" y="639" width="6" height="2" fill="#ff0000"/>
<rect x="193" y="638" width="4" height="2" fill="#ff0000"/>
<rect x="197" y="637" width="6" height="2" fill="#ff0000"/>
<rect x="203" y="636" width="6" height="2" fill="#ff0000"/>
<rect x="209" y="635" width="5" height="2" fill="#ff0000"/>
<rect x="214" y="634" width="5" height="2" fill="#ff0000"/>
<rect x="219" y="633" width="6" height="2" fill="#ff0000"/>
<rect x="225" y="632" width="5" height="2" fill="#ff0000"/>
<rect x="230" y="631" width="8" height="2" fill="#ff0000"/>
<rect x="238" y="630" width="8" height="2" fill="#ff0000"/>
<rect x="246" y="629" width="7" height="2" fill="#ff0000"/>
<rect x="253" y="628" width="9" height="2" fill="#ff0000"/>
<rect x="262" y="627" width="16" height="2" fill="#ff0000"/>
<rect x="278" y="626" width="16" height="2" fill="#ff0000"/>
<rect x="294" y="627" width="15" height="2" fill="#ff0000"/>
<rect x="309" y="628" width="16" height="2" fill="#ff0000"/>
<rect x="325" y="629" width="16" height="2" fill="#ff0000"/>
<rect x="341" y="630" width="16" height="2" fill="#ff0000"/>
<rect x="357" y="631" width="8" height="2" fill="#ff0000"/>
<rect x="365" y="632" width="9" height="2" fill="#ff0000"/>
<rect x="374" y="633" width="15" height="2" fill="#ff0000"/>
<rect x="389" y="634" width="16" height="2" fill="#ff0000"/>
<rect x="405" y="635" width="80" height="2" fill="#ff0000"/>
<rect x="485" y="634" width="16" height="2" fill="#ff0000"/>
<rect x="501" y="633" width="16" height="2" fill="#ff0000"/>
<rect x="517" y="632" width="9" height="2" fill="#ff0000"/>
<rect x="526" y="631" width="8" height="2" fill="#ff0000"/>
<rect x="534" y="630" width="8" height="2" fill="#ff0000"/>
<rect x="542" y="629" width="8" height="2" fill="#ff0000"/>
<rect x="550" y="628" width="8" height="2" fill="#ff0000"/>
<rect x="558" y="627" width="8" height="2" fill="#ff0000"/>
<rect x="566" y="626" width="5" height="2" fill="#ff0000"/>
<rect x="571" y="625" width="5" height="2" fill="#ff0000"/>
<rect x="576" y="624" width="6" height="2" fill="#ff0000"/>
<rect x="582" y="623" width="8" height="2" fill="#ff0000"/>
<rect x="590" y="622" width="7" height="2" fill="#ff0000"/>
<rect x="597" y="621" width="6" height="2" fill="#ff0000"/>
<rect x="603" y="620" width="5" height="2" fill="#ff0000"/>
<rect x="608" y="619" width="6" height="2" fill="#ff0000"/>
<rect x="614" y="618" width="8" height="2" fill="#ff0000"/>
<rect x="622" y="617" width="7" height="2" fill="#ff0000"/>
<rect x="629" y="616" width="8" height="2" fill="#ff0000"/>
<rect x="637" y="615" width="8" height="2" fill="#ff0000"/>
<rect x="645" y="614" width="9" height="2" fill="#ff0000"/>
<rect x="654" y="613" width="7" height="2" fill="#ff0000"/>
<rect x="661" y="612" width="17" height="2" fill="#ff0000"/>
<rect x="678" y="611" width="31" height="2" fill="#ff0000"/>
<rect x="709" y="612" width="32" height="2" fill="#ff0000"/>
<rect x="741" y="613" width="16" height="2" fill="#ff0000"/>
<rect x="757" y="614" width="17" height="2" fill="#ff0000"/>
<rect x="774" y="615" width="8" height="2" fill="#ff0000"/>
<rect x="782" y="616" width="8" height="2" fill="#ff0000"/>
<rect x="790" y="617" width="4" height="2" fill="#ff0000"/>
<rect x="794" y="618" width="7" height="2" fill="#ff0000"/>
<rect x="801" y="619" width="5" height="2" fill="#ff0000"/>
<rect x="806" y="620" width="16" height="2" fill="#ff0000"/>
<rect x="822" y="621" width="16" height="2" fill="#ff0000"/>
<rect x="838" y="622" width="31" height="2" fill="#ff0000"/>
<rect x="869" y="623" width="17" height="2" fill="#ff0000"/>
<rect x="886" y="624" width="32" height="2" fill="#ff0000"/>
<rect x="918" y="625" width="32" height="2" fill="#ff0000"/>
<rect x="950" y="624" width="31" height="2" fill="#ff0000"/>
<rect x="981" y="623" width="16" height="2" fill="#ff0000"/>
<rect x="997" y="622" width="9" height="2" fill="#ff0000"/>
<rect x="1006" y="621" width="8" height="2" fill="#ff0000"/>
<rect x="1014" y="620" width="16" height="2" fill="#ff0000"/>
<rect x="1030" y="619" width="48" height="2" fill="#ff0000"/>
<rect x="1078" y="620" width="16" height="2" fill="#ff0000"/>
<rect x="1094" y="621" width="15" height="2" fill="#ff0000"/>
<rect x="1109" y="622" width="17" height="2" fill="#ff0000"/>
<rect x="1126" y="623" width="8" height="2" fill="#ff0000"/>
<rect x="1134" y="624" width="7" height="2" fill="#ff0000"/>
<rect x="1141" y="625" width="5" height="2" fill="#ff0000"/>
<rect x="1146" y="626" width="6" height="2" fill="#ff0000"/>
<rect x="1152" y="627" width="5" height="2" fill="#ff0000"/>
<rect x="1157" y="628" width="4" height="2" fill="#ff0000"/>
<rect x="1161" y="629" width="4" height="2" fill="#ff0000"/>
<rect x="1165" y="630" width="5" height="2" fill="#ff0000"/>
<rect x="1170" y="631" width="4" height="2" fill="#ff0000"/>
<rect x="1174" y="632" width="4" height="2" fill="#ff0000"/>
<rect x="1178" y="633" width="3" height="2" fill="#ff0000"/>
<rect x="1181" y="634" width="5" height="2" fill="#ff0000"/>
<rect x="1186" y="635" width="4" height="2" fill="#ff0000"/>
<rect x="1190" y="636" width="3" height="2" fill="#ff0000"/>
<polyline points="1193,638 1205,641.5 1221,645.5 1237,649.5 1253,653.6 1269,658.5 1285,664.4 1301,668.4 1317,672.5 1333,677.3 1349,681.4 1365,686.4 1381,690.9" fill="none" stroke="#ff0000" stroke-width="2" stroke-linecap="square"/>
</g>
<g clip-path="url(#crsi)">
<line x1="6" y1="739.5" x2="1644" y2="739.5" stroke="#000" stroke-width="1" stroke-dasharray="3,3"/>
<line x1="6" y1="769.5" x2="1644" y2="769.5" stroke="#000" stroke-width="1" stroke-dasharray="3,3"/>
<line x1="6" y1="805.5" x2="1644" y2="805.5" stroke="#000" stroke-width="1" stroke-dasharray="3,3"/>
<polyline points="5,777.8 21,781.8 37,782.5 53,782.6 69,780.4 85,777.3 101,768.7 117,772.6 133,772.6 149,767 165,760 181,764.7 197,765.2 213,767 229,771.8 245,772.3 261,772.8 277,781.6 293,773.4 309,771.3 325,770.9 341,773.8 357,773.8 373,773.8 389,774.3 405,776.8 421,775.7 437,773.8 453,770.4 469,763 485,763 501,764.5 517,764.5 533,760.5 549,762.7 565,773.8 581,762 597,759.8 613,760.5 629,763.5 645,760.5 661,757.6 677,774.6 693,774.6 709,773.8 725,773.8 741,763.9 757,763.9 773,771.6 789,771.3 805,771.9 821,770.1 837,770.1 853,771.9 869,771.9 885,768.6 901,768.6 917,767.9 933,767.9 949,763 965,765.9 981,763.9 997,763.9 1013,765 1029,766.9 1045,775.7 1061,772.8 1077,775.3 1093,775.7 1109,773.8 1125,774.3 1141,774.8 1157,792 1173,792 1189,790.3 1205,784 1221,783.8 1237,784 1253,791.5 1269,793.5 1285,793.8 1301,796 1317,798.7 1333,798.7 1349,801.4 1365,801.7 1381,801.7" fill="none" stroke="#1e90ff" stroke-width="2"/>
</g>
<rect x="4.5" y="24.5" width="1640" height="570" fill="none" stroke="#000" stroke-width="1"/>
<rect x="4.5" y="596.5" width="1640" height="119" fill="none" stroke="#000" stroke-width="1"/>
<rect x="4.5" y="717.5" width="1640" height="104" fill="none" stroke="#000" stroke-width="1"/>
<rect x="4" y="491" width="6" height="6" fill="#ff0000"/>
<rect x="6" y="493" width="2" height="2" fill="#fff"/>
<rect x="1638" y="491" width="7" height="6" fill="#ff0000"/>
<rect x="1640" y="493" width="2" height="2" fill="#fff"/>
<rect x="4" y="512" width="6" height="6" fill="#ff0000"/>
<rect x="6" y="514" width="2" height="2" fill="#fff"/>
<rect x="1638" y="512" width="7" height="6" fill="#ff0000"/>
<rect x="1640" y="514" width="2" height="2" fill="#fff"/>
<rect x="4" y="533" width="6" height="6" fill="#32cd32"/>
<rect x="6" y="535" width="2" height="2" fill="#fff"/>
<rect x="1638" y="533" width="7" height="6" fill="#32cd32"/>
<rect x="1640" y="535" width="2" height="2" fill="#fff"/>
<rect x="4" y="564" width="6" height="6" fill="#0000ff"/>
<rect x="6" y="566" width="2" height="2" fill="#fff"/>
<rect x="1638" y="564" width="7" height="6" fill="#0000ff"/>
<rect x="1640" y="566" width="2" height="2" fill="#fff"/>
<rect x="4" y="584" width="6" height="6" fill="#0000ff"/>
<rect x="6" y="586" width="2" height="2" fill="#fff"/>
<rect x="1638" y="584" width="7" height="6" fill="#0000ff"/>
<rect x="1640" y="586" width="2" height="2" fill="#fff"/>
<rect x="1645" y="30" width="2" height="1" fill="#000"/>
<text x="1650" y="34" font-size="9.8" fill="#000" stroke="#000" stroke-width="0.12" textLength="33.62" lengthAdjust="spacingAndGlyphs">0.90400</text>
<rect x="1645" y="63" width="2" height="1" fill="#000"/>
<text x="1650" y="67" font-size="9.8" fill="#000" stroke="#000" stroke-width="0.12" textLength="33.62" lengthAdjust="spacingAndGlyphs">0.90240</text>
<rect x="1645" y="96" width="2" height="1" fill="#000"/>
<text x="1650" y="100" font-size="9.8" fill="#000" stroke="#000" stroke-width="0.12" textLength="33.62" lengthAdjust="spacingAndGlyphs">0.90085</text>
<rect x="1645" y="129" width="2" height="1" fill="#000"/>
<text x="1650" y="133" font-size="9.8" fill="#000" stroke="#000" stroke-width="0.12" textLength="33.62" lengthAdjust="spacingAndGlyphs">0.89925</text>
<rect x="1645" y="162" width="2" height="1" fill="#000"/>
<text x="1650" y="166" font-size="9.8" fill="#000" stroke="#000" stroke-width="0.12" textLength="33.62" lengthAdjust="spacingAndGlyphs">0.89770</text>
<rect x="1645" y="195" width="2" height="1" fill="#000"/>
<text x="1650" y="199" font-size="9.8" fill="#000" stroke="#000" stroke-width="0.12" textLength="33.62" lengthAdjust="spacingAndGlyphs">0.89610</text>
<rect x="1645" y="228" width="2" height="1" fill="#000"/>
<text x="1650" y="232" font-size="9.8" fill="#000" stroke="#000" stroke-width="0.12" textLength="33.62" lengthAdjust="spacingAndGlyphs">0.89455</text>
<rect x="1645" y="261" width="2" height="1" fill="#000"/>
<text x="1650" y="265" font-size="9.8" fill="#000" stroke="#000" stroke-width="0.12" textLength="33.62" lengthAdjust="spacingAndGlyphs">0.89295</text>
<rect x="1645" y="294" width="2" height="1" fill="#000"/>
<text x="1650" y="298" font-size="9.8" fill="#000" stroke="#000" stroke-width="0.12" textLength="33.62" lengthAdjust="spacingAndGlyphs">0.89140</text>
<rect x="1645" y="327" width="2" height="1" fill="#000"/>
<text x="1650" y="331" font-size="9.8" fill="#000" stroke="#000" stroke-width="0.12" textLength="33.62" lengthAdjust="spacingAndGlyphs">0.88980</text>
<rect x="1645" y="360" width="2" height="1" fill="#000"/>
<text x="1650" y="364" font-size="9.8" fill="#000" stroke="#000" stroke-width="0.12" textLength="33.62" lengthAdjust="spacingAndGlyphs">0.88825</text>
<rect x="1645" y="393" width="2" height="1" fill="#000"/>
<text x="1650" y="397" font-size="9.8" fill="#000" stroke="#000" stroke-width="0.12" textLength="33.62" lengthAdjust="spacingAndGlyphs">0.88665</text>
<rect x="1645" y="426" width="2" height="1" fill="#000"/>
<text x="1650" y="430" font-size="9.8" fill="#000" stroke="#000" stroke-width="0.12" textLength="33.62" lengthAdjust="spacingAndGlyphs">0.88510</text>
<rect x="1645" y="459" width="2" height="1" fill="#000"/>
<text x="1650" y="463" font-size="9.8" fill="#000" stroke="#000" stroke-width="0.12" textLength="33.62" lengthAdjust="spacingAndGlyphs">0.88350</text>
<rect x="1645" y="492" width="2" height="1" fill="#000"/>
<text x="1650" y="496" font-size="9.8" fill="#000" stroke="#000" stroke-width="0.12" textLength="33.62" lengthAdjust="spacingAndGlyphs">0.88195</text>
<rect x="1645" y="525" width="2" height="1" fill="#000"/>
<text x="1650" y="529" font-size="9.8" fill="#000" stroke="#000" stroke-width="0.12" textLength="33.62" lengthAdjust="spacingAndGlyphs">0.88035</text>
<rect x="1645" y="558" width="2" height="1" fill="#000"/>
<text x="1650" y="562" font-size="9.8" fill="#000" stroke="#000" stroke-width="0.12" textLength="33.62" lengthAdjust="spacingAndGlyphs">0.87880</text>
<rect x="1645" y="591" width="2" height="1" fill="#000"/>
<text x="1650" y="595" font-size="9.8" fill="#000" stroke="#000" stroke-width="0.12" textLength="33.62" lengthAdjust="spacingAndGlyphs">0.87720</text>
<rect x="1646" y="488" width="41" height="11" fill="#ff0000"/>
<text x="1650" y="497" font-size="9.8" fill="#fff" stroke="#fff" stroke-width="0.12" textLength="33.62" lengthAdjust="spacingAndGlyphs">0.88186</text>
<rect x="1646" y="509" width="41" height="11" fill="#ff0000"/>
<text x="1650" y="518" font-size="9.8" fill="#fff" stroke="#fff" stroke-width="0.12" textLength="33.62" lengthAdjust="spacingAndGlyphs">0.88084</text>
<rect x="1646" y="539" width="41" height="11" fill="#000"/>
<text x="1650" y="548" font-size="9.8" fill="#fff" stroke="#fff" stroke-width="0.12" textLength="33.62" lengthAdjust="spacingAndGlyphs">0.87944</text>
<rect x="1646" y="530" width="41" height="11" fill="#32cd32"/>
<text x="1650" y="539" font-size="9.8" fill="#fff" stroke="#fff" stroke-width="0.12" textLength="33.62" lengthAdjust="spacingAndGlyphs">0.87983</text>
<rect x="1646" y="561" width="41" height="11" fill="#0000ff"/>
<text x="1650" y="570" font-size="9.8" fill="#fff" stroke="#fff" stroke-width="0.12" textLength="33.62" lengthAdjust="spacingAndGlyphs">0.87839</text>
<rect x="1646" y="581" width="41" height="11" fill="#0000ff"/>
<text x="1650" y="590" font-size="9.8" fill="#fff" stroke="#fff" stroke-width="0.12" textLength="33.62" lengthAdjust="spacingAndGlyphs">0.87743</text>
<rect x="1645" y="603" width="2" height="1" fill="#000"/>
<text x="1648" y="607" font-size="9.8" fill="#000" stroke="#000" stroke-width="0.12" textLength="38.79" lengthAdjust="spacingAndGlyphs">0.001375</text>
<rect x="1645" y="626" width="2" height="1" fill="#000"/>
<text x="1648" y="630" font-size="9.8" fill="#000" stroke="#000" stroke-width="0.12" textLength="18.10" lengthAdjust="spacingAndGlyphs">0.00</text>
<text x="1648" y="712" font-size="9.8" fill="#000" stroke="#000" stroke-width="0.12" textLength="41.88" lengthAdjust="spacingAndGlyphs">-0.004356</text>
<text x="1648" y="728" font-size="9.8" fill="#000" stroke="#000" stroke-width="0.12" textLength="15.52" lengthAdjust="spacingAndGlyphs">100</text>
<rect x="1645" y="739" width="2" height="1" fill="#000"/>
<text x="1648" y="743" font-size="9.8" fill="#000" stroke="#000" stroke-width="0.12" textLength="10.34" lengthAdjust="spacingAndGlyphs">80</text>
<rect x="1645" y="769" width="2" height="1" fill="#000"/>
<text x="1648" y="773" font-size="9.8" fill="#000" stroke="#000" stroke-width="0.12" textLength="10.34" lengthAdjust="spacingAndGlyphs">50</text>
<rect x="1645" y="805" width="2" height="1" fill="#000"/>
<text x="1648" y="809" font-size="9.8" fill="#000" stroke="#000" stroke-width="0.12" textLength="10.34" lengthAdjust="spacingAndGlyphs">15</text>
<text x="1648" y="818" font-size="9.8" fill="#000" stroke="#000" stroke-width="0.12" textLength="5.17" lengthAdjust="spacingAndGlyphs">0</text>
<rect x="5" y="822" width="1" height="3" fill="#000"/>
<text x="4" y="834" font-size="9.8" fill="#000" stroke="#000" stroke-width="0.12" textLength="51.19" lengthAdjust="spacingAndGlyphs">21 Jun 2023</text>
<rect x="69" y="822" width="1" height="3" fill="#000"/>
<text x="68" y="834" font-size="9.8" fill="#000" stroke="#000" stroke-width="0.12" textLength="53.78" lengthAdjust="spacingAndGlyphs">22 Jun 04:00</text>
<rect x="133" y="822" width="1" height="3" fill="#000"/>
<text x="132" y="834" font-size="9.8" fill="#000" stroke="#000" stroke-width="0.12" textLength="53.78" lengthAdjust="spacingAndGlyphs">22 Jun 20:00</text>
<rect x="197" y="822" width="1" height="3" fill="#000"/>
<text x="196" y="834" font-size="9.8" fill="#000" stroke="#000" stroke-width="0.12" textLength="53.78" lengthAdjust="spacingAndGlyphs">23 Jun 12:00</text>
<rect x="261" y="822" width="1" height="3" fill="#000"/>
<text x="260" y="834" font-size="9.8" fill="#000" stroke="#000" stroke-width="0.12" textLength="53.78" lengthAdjust="spacingAndGlyphs">26 Jun 04:00</text>
<rect x="325" y="822" width="1" height="3" fill="#000"/>
<text x="324" y="834" font-size="9.8" fill="#000" stroke="#000" stroke-width="0.12" textLength="53.78" lengthAdjust="spacingAndGlyphs">26 Jun 20:00</text>
<rect x="389" y="822" width="1" height="3" fill="#000"/>
<text x="388" y="834" font-size="9.8" fill="#000" stroke="#000" stroke-width="0.12" textLength="53.78" lengthAdjust="spacingAndGlyphs">27 Jun 12:00</text>
<rect x="453" y="822" width="1" height="3" fill="#000"/>
<text x="452" y="834" font-size="9.8" fill="#000" stroke="#000" stroke-width="0.12" textLength="53.78" lengthAdjust="spacingAndGlyphs">28 Jun 04:00</text>
<rect x="517" y="822" width="1" height="3" fill="#000"/>
<text x="516" y="834" font-size="9.8" fill="#000" stroke="#000" stroke-width="0.12" textLength="53.78" lengthAdjust="spacingAndGlyphs">28 Jun 20:00</text>
<rect x="581" y="822" width="1" height="3" fill="#000"/>
<text x="580" y="834" font-size="9.8" fill="#000" stroke="#000" stroke-width="0.12" textLength="53.78" lengthAdjust="spacingAndGlyphs">29 Jun 12:00</text>
<rect x="645" y="822" width="1" height="3" fill="#000"/>
<text x="644" y="834" font-size="9.8" fill="#000" stroke="#000" stroke-width="0.12" textLength="53.78" lengthAdjust="spacingAndGlyphs">30 Jun 04:00</text>
<rect x="709" y="822" width="1" height="3" fill="#000"/>
<text x="708" y="834" font-size="9.8" fill="#000" stroke="#000" stroke-width="0.12" textLength="45.50" lengthAdjust="spacingAndGlyphs">2 Jul 23:00</text>
<rect x="773" y="822" width="1" height="3" fill="#000"/>
<text x="772" y="834" font-size="9.8" fill="#000" stroke="#000" stroke-width="0.12" textLength="45.50" lengthAdjust="spacingAndGlyphs">3 Jul 12:00</text>
<rect x="837" y="822" width="1" height="3" fill="#000"/>
<text x="836" y="834" font-size="9.8" fill="#000" stroke="#000" stroke-width="0.12" textLength="45.50" lengthAdjust="spacingAndGlyphs">4 Jul 04:00</text>
<rect x="901" y="822" width="1" height="3" fill="#000"/>
<text x="900" y="834" font-size="9.8" fill="#000" stroke="#000" stroke-width="0.12" textLength="45.50" lengthAdjust="spacingAndGlyphs">4 Jul 20:00</text>
<rect x="965" y="822" width="1" height="3" fill="#000"/>
<text x="964" y="834" font-size="9.8" fill="#000" stroke="#000" stroke-width="0.12" textLength="45.50" lengthAdjust="spacingAndGlyphs">5 Jul 12:00</text>
<rect x="1029" y="822" width="1" height="3" fill="#000"/>
<text x="1028" y="834" font-size="9.8" fill="#000" stroke="#000" stroke-width="0.12" textLength="45.50" lengthAdjust="spacingAndGlyphs">6 Jul 04:00</text>
<rect x="1093" y="822" width="1" height="3" fill="#000"/>
<text x="1092" y="834" font-size="9.8" fill="#000" stroke="#000" stroke-width="0.12" textLength="45.50" lengthAdjust="spacingAndGlyphs">6 Jul 20:00</text>
<rect x="1157" y="822" width="1" height="3" fill="#000"/>
<text x="1156" y="834" font-size="9.8" fill="#000" stroke="#000" stroke-width="0.12" textLength="45.50" lengthAdjust="spacingAndGlyphs">7 Jul 12:00</text>
<rect x="1221" y="822" width="1" height="3" fill="#000"/>
<text x="1220" y="834" font-size="9.8" fill="#000" stroke="#000" stroke-width="0.12" textLength="50.67" lengthAdjust="spacingAndGlyphs">10 Jul 04:00</text>
<rect x="1285" y="822" width="1" height="3" fill="#000"/>
<text x="1284" y="834" font-size="9.8" fill="#000" stroke="#000" stroke-width="0.12" textLength="50.67" lengthAdjust="spacingAndGlyphs">10 Jul 20:00</text>
<rect x="1349" y="822" width="1" height="3" fill="#000"/>
<text x="1348" y="834" font-size="9.8" fill="#000" stroke="#000" stroke-width="0.12" textLength="49.98" lengthAdjust="spacingAndGlyphs">11 Jul 12:00</text>
<polygon points="8,31 15,31 11.5,35" fill="#000"/>
<text x="20" y="36" font-size="9.8" fill="#000" stroke="#000" stroke-width="0.12" textLength="58.8" lengthAdjust="spacingAndGlyphs">USDCHF-,H4</text>
<text x="83.5" y="36" font-size="9.8" fill="#000" stroke="#000" stroke-width="0.12" textLength="141.6" lengthAdjust="spacingAndGlyphs">0.87964 0.87970 0.87924 0.87944</text>
<text x="9" y="609" font-size="9.8" fill="#000" stroke="#000" stroke-width="0.12" textLength="155.19" lengthAdjust="spacingAndGlyphs">MACD(12,26,9) -0.004095 -0.003196</text>
<text x="9" y="730" font-size="9.8" fill="#000" stroke="#000" stroke-width="0.12" textLength="68.24" lengthAdjust="spacingAndGlyphs">RSI(14) 17.8820</text>
<polygon points="1375,25 1386,25 1380.5,30" fill="#000"/>
</svg>
</body></html>
